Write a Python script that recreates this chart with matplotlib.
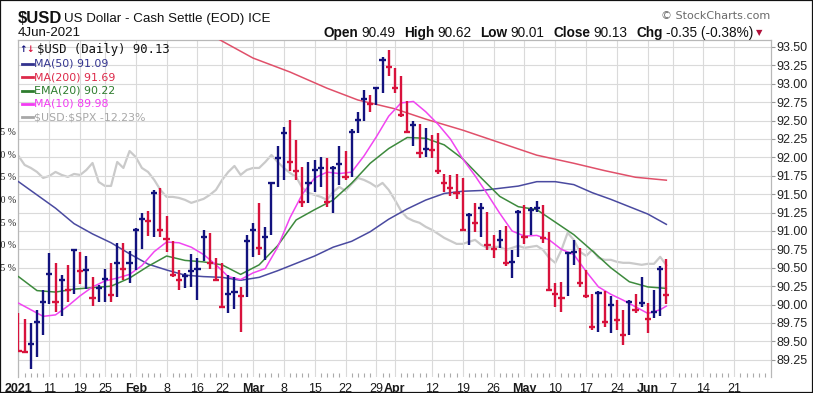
import numpy as np
import matplotlib
matplotlib.use("Agg")
import matplotlib.pyplot as plt
from matplotlib.patches import Rectangle
from matplotlib.lines import Line2D

# ------------------------------------------------------------------ data
# daily bars, 4-Jan-2021 .. 4-Jun-2021 (trading-day order)
highs = [89.89, 89.81, 89.75, 89.93, 90.20, 90.70, 90.56, 90.40, 90.54, 90.76,
         90.71, 90.66, 90.37, 90.27, 90.48, 90.56, 90.84, 90.83, 90.73, 91.04,
         91.25, 91.27, 91.56, 91.58, 91.20, 90.86, 90.47, 90.43, 90.69, 90.63,
         91.01, 90.97, 90.63, 90.56, 90.40, 90.38, 90.24, 90.95, 91.11, 91.38,
         91.05, 91.67, 92.15, 92.41, 92.51, 92.24, 91.87, 91.94, 91.97, 92.01,
         91.99, 91.88, 92.16, 92.08, 92.38, 92.62, 92.92, 92.85, 92.96, 93.37,
         93.46, 93.21, 93.10, 92.76, 92.49, 92.46, 92.40, 92.30, 92.33, 91.78,
         91.76, 91.78, 91.72, 91.24, 91.38, 91.38, 91.26, 90.95, 91.01, 91.07,
         90.74, 91.29, 91.35, 91.33, 91.41, 91.35, 90.99, 90.30, 90.31, 90.72,
         90.88, 90.77, 90.47, 90.15, 90.18, 90.18, 90.11, 90.06, 89.93, 90.06,
         90.15, 90.38, 90.02, 90.20, 90.52, 90.62]
lows = [89.36, 89.34, 89.13, 89.29, 89.59, 90.01, 89.90, 89.84, 90.03, 90.15,
        90.28, 90.21, 89.98, 90.03, 90.03, 90.04, 90.10, 90.33, 90.30, 90.47,
        90.75, 90.93, 90.92, 90.92, 90.71, 90.38, 90.20, 90.22, 90.24, 90.06,
        90.59, 90.49, 90.33, 89.95, 89.89, 89.94, 89.63, 90.10, 90.65, 90.67,
        90.61, 90.95, 91.60, 91.69, 91.81, 91.69, 91.33, 91.38, 91.53, 91.60,
        91.33, 91.24, 91.63, 91.69, 91.74, 92.33, 92.49, 92.62, 92.71, 92.87,
        93.10, 92.87, 92.55, 92.33, 92.15, 91.99, 92.01, 91.99, 91.78, 91.53,
        91.47, 91.43, 91.01, 90.81, 90.99, 90.92, 90.74, 90.63, 90.77, 90.52,
        90.36, 90.65, 90.82, 90.95, 91.26, 90.83, 90.18, 89.97, 89.90, 90.11,
        90.54, 90.24, 90.09, 89.66, 89.63, 89.70, 89.61, 89.66, 89.45, 89.59,
        89.88, 89.97, 89.61, 89.82, 89.84, 90.01]
closes = [89.37, 89.35, 89.46, 89.77, 90.04, 90.41, 90.04, 90.33, 90.20, 90.74,
          90.45, 90.47, 90.09, 90.22, 90.35, 90.13, 90.57, 90.49, 90.56, 91.02,
          91.16, 91.14, 91.51, 91.01, 90.89, 90.40, 90.33, 90.39, 90.46, 90.48,
          90.92, 90.56, 90.34, 89.97, 90.14, 90.17, 90.11, 90.86, 91.01, 90.77,
          90.92, 91.65, 91.99, 92.33, 91.94, 91.81, 91.40, 91.65, 91.83, 91.86,
          91.40, 91.86, 91.91, 91.74, 92.35, 92.51, 92.80, 92.73, 92.94, 93.32,
          93.23, 92.94, 92.58, 92.34, 92.44, 92.06, 92.12, 92.10, 91.81, 91.65,
          91.59, 91.51, 91.02, 91.22, 91.11, 91.31, 90.81, 90.76, 90.88, 90.56,
          90.58, 91.26, 90.92, 91.29, 91.31, 90.90, 90.20, 90.15, 90.09, 90.70,
          90.72, 90.30, 90.11, 89.69, 90.16, 89.77, 90.00, 89.79, 89.59, 90.04,
          89.93, 90.02, 89.81, 89.90, 90.48, 90.13]
prior_close = 89.94   # last close of 2020 (first bar is drawn red)

# overlays (bar index -> value)
ma50_at = list(range(0, 103, 3)) + [105]
ma50 = [91.67, 91.49, 91.31, 91.10, 90.96, 90.84, 90.69, 90.55, 90.47, 90.40,
        90.38, 90.37, 90.33, 90.37, 90.46, 90.56, 90.66, 90.78, 90.86, 90.99,
        91.16, 91.30, 91.42, 91.51, 91.54, 91.55, 91.58, 91.61, 91.67, 91.67,
        91.63, 91.52, 91.43, 91.33, 91.23, 91.09]
ma200_at = [30, 33, 38, 44, 50, 55, 61, 66, 72, 78, 84, 90, 95, 100, 105]
ma200 = [93.72, 93.58, 93.35, 93.16, 92.94, 92.78, 92.66, 92.52, 92.37, 92.20,
         92.03, 91.92, 91.82, 91.73, 91.69]
ema20_at = list(range(0, 103, 3)) + [105]
ema20 = [90.38, 90.19, 90.17, 90.21, 90.23, 90.25, 90.36, 90.52, 90.66, 90.60,
         90.58, 90.54, 90.41, 90.54, 90.80, 91.15, 91.29, 91.42, 91.65, 91.92,
         92.12, 92.27, 92.26, 92.17, 91.98, 91.72, 91.47, 91.33, 91.29, 91.12,
         90.95, 90.73, 90.50, 90.31, 90.24, 90.22]
ma10_at = list(range(0, 105, 2)) + [105]
ma10 = [90.02, 89.93, 89.84, 89.86, 89.98, 90.12, 90.24, 90.32, 90.36, 90.41,
        90.53, 90.72, 90.85, 90.84, 90.78, 90.68, 90.54, 90.38, 90.34, 90.43,
        90.49, 90.78, 91.18, 91.50, 91.72, 91.80, 91.78, 91.80, 92.02, 92.28,
        92.56, 92.74, 92.76, 92.62, 92.45, 92.25, 91.98, 91.75, 91.50, 91.24,
        91.00, 90.93, 90.94, 90.88, 90.75, 90.68, 90.45, 90.24, 90.14, 90.06,
        89.97, 89.88, 89.93, 89.98]
# $USD:$SPX relative performance, percent (left, clipped scale)
spx_rel = [-0.19, -1.18, -1.51, -1.95, -2.61, -2.39, -1.95, -2.28, -2.50, -2.17,
           -2.28, -1.73, -0.96, -3.05, -3.49, -3.49, -0.85, -1.51, 0.36, -0.30,
           -1.51, -1.95, -2.83, -3.93, -4.70, -4.70, -4.81, -5.03, -5.36, -5.14,
           -4.92, -4.48, -3.93, -2.83, -1.95, -1.29, -2.28, -1.73, -1.51, -1.51,
           -0.85, -0.08, -0.85, -1.51, -2.06, -2.50, -3.71, -4.26, -4.48, -4.70,
           -5.03, -4.15, -3.60, -4.04, -3.27, -2.61, -2.83, -3.16, -3.60, -3.16,
           -3.93, -5.03, -6.24, -7.01, -7.34, -7.56, -8.00, -8.33, -8.77, -9.22,
           -9.55, -9.88, -9.88, -9.66, -9.44, -9.99, -10.32, -10.21, -10.21, -10.54,
           -10.32, -10.10, -10.32, -10.21, -10.10, -10.54, -11.42, -11.97, -10.54, -8.66,
           -9.44, -10.76, -11.20, -10.54, -11.42, -11.64, -11.64, -11.86, -11.97, -11.97,
           -12.08, -12.19, -12.08, -12.08, -11.31, -12.23]

# date axis (trading-day index of each label)
date_tick_at = [0, 5, 10, 14, 19, 24, 29, 33, 38, 43, 48, 53, 58, 61, 67, 72, 77,
                82, 87, 92, 97, 102, 106, 111, 116]
date_tick_lab = ["2021", "11", "19", "25", "Feb", "8", "16", "22", "Mar", "8",
                 "15", "22", "29", "Apr", "12", "19", "26", "May", "10", "17",
                 "24", "Jun", "7", "14", "21"]
bold_labels = {"2021", "Feb", "Mar", "Apr", "May", "Jun"}
price_ticks = [89.25 + 0.25 * k for k in range(18)]
pct_ticks = [2.5, 0.0, -2.5, -5.0, -7.5, -10.0, -12.5]

legend_rows = [("MA(50) 91.09", "#33338f"), ("MA(200) 91.69", "#dd2a4a"),
               ("EMA(20) 90.22", "#2f7d2f"), ("MA(10) 89.98", "#f23cf2"),
               (r"\$USD:\$SPX -12.23%", "#a8a8a8")]
ohlc_header = [("Open", "90.49"), ("High", "90.62"), ("Low", "90.01"),
               ("Close", "90.13"), ("Chg", "-0.35 (-0.38%)")]

# ------------------------------------------------------------------ figure
W, H = 813, 393
fig = plt.figure(figsize=(W / 100, H / 100), dpi=100)
fig.patch.set_facecolor("white")


def fx(px):
    return px / W


def fy(py):
    return 1 - py / H


L, R, T, B = 18, 771, 40, 377
rect = [fx(L), fy(B), (R - L) / W, (B - T) / H]
axp = fig.add_axes(rect, label="pct")
ax = fig.add_axes(rect, label="price")
ax.patch.set_visible(False)

UP, DN = "#12127e", "#d8123c"
SANS = "Liberation Sans"

n = len(closes)
idx = np.arange(n)
for a in (ax, axp):
    a.set_xlim(-0.08, 121.96)
ax.set_ylim(89.016, 93.595)
axp.set_ylim(-24.56, 12.60)

# relative-performance line on its own (left) scale
axp.plot(idx, spx_rel, color="#cacaca", lw=1.6, solid_joinstyle="round")
axp.set_xticks([])
axp.yaxis.set_ticks_position("left")
axp.set_yticks(pct_ticks)
axp.set_yticklabels([f"{v:.1f} %" for v in pct_ticks])
axp.tick_params(axis="y", length=0, pad=1.2, labelsize=7, labelcolor="#222222")
for lab in axp.get_yticklabels():
    lab.set_fontfamily("Liberation Serif")
for s in axp.spines.values():
    s.set_visible(False)

# price axis
ax.yaxis.tick_right()
ax.set_yticks(price_ticks)
ax.set_yticklabels([f"{v:.2f}" for v in price_ticks])
ax.tick_params(axis="y", direction="out", length=3, width=0.8, color="#999999",
               pad=1, labelsize=9, labelcolor="#222222")
for lab in ax.get_yticklabels():
    lab.set_fontfamily(SANS)

ax.set_xticks(date_tick_at)
ax.set_xticklabels(date_tick_lab)
ax.set_xticks(np.arange(0, 122), minor=True)
ax.tick_params(axis="x", which="major", length=0, pad=4, labelsize=9,
               labelcolor="#1a1a1a")
ax.tick_params(axis="x", which="minor", direction="in", length=3, width=0.8,
               color="#aaaaaa")
for lab in ax.get_xticklabels():
    lab.set_fontfamily(SANS)
    if lab.get_text() in bold_labels:
        lab.set_fontweight("bold")

ax.grid(True, which="major", color="#dadada", lw=0.8)
ax.set_axisbelow(True)
for side in ("left", "top", "right"):
    ax.spines[side].set_color("#b8b8b8")
    ax.spines[side].set_linewidth(0.9)
ax.spines["bottom"].set_visible(False)

# overlays
ax.plot(ma200_at, ma200, color="#e0506a", lw=1.1, zorder=3)
ax.plot(ma50_at, ma50, color="#4a4aa0", lw=1.1, zorder=3)
ax.plot(ema20_at, ema20, color="#3d8a3d", lw=1.1, zorder=3)
ax.plot(ma10_at, ma10, color="#f145f1", lw=1.1, zorder=3)

# price bars: high-low line with close cross
prev = np.r_[prior_close, closes[:-1]]
cols = np.where(np.array(closes) > prev, UP, DN)
ax.vlines(idx, lows, highs, colors=cols, lw=1.7, zorder=4)
ax.hlines(closes, idx - 0.5, idx + 0.5, colors=cols, lw=1.7, zorder=4)

# ------------------------------------------------------------------ legend
fig.text(fx(19), fy(50), "\u2191", color=UP, fontsize=6.5, va="center",
         ha="left", family="DejaVu Sans", fontweight="bold")
fig.text(fx(26.5), fy(50), "\u2193", color=DN, fontsize=6.5, va="center",
         ha="left", family="DejaVu Sans", fontweight="bold")
fig.text(fx(37), fy(50), "$USD (Daily) 90.13", color="#111111", fontsize=8.8,
         va="center", ha="left", family="DejaVu Sans Mono")
for k, (txt, c) in enumerate(legend_rows):
    yc = 63.5 + 13.5 * k
    fig.add_artist(Line2D([fx(21.5), fx(32.5)], [fy(yc), fy(yc)], color=c, lw=2.0,
                          transform=fig.transFigure))
    fig.text(fx(34), fy(yc), txt, color=c, fontsize=7.9, va="center", ha="left",
             family="DejaVu Sans")

# ------------------------------------------------------------------ header
fig.text(fx(18), fy(18.5), "$USD", fontsize=12, fontweight="bold",
         family=SANS, va="center", ha="left", color="#111111")
fig.text(fx(64), fy(19), "US Dollar - Cash Settle (EOD) ICE", fontsize=9.6,
         family=SANS, va="center", ha="left", color="#111111")
fig.text(fx(18), fy(33), "4Jun-2021", fontsize=9.6, family=SANS, va="center",
         ha="left", color="#111111")
fig.text(fx(770), fy(16), "\u00a9 StockCharts.com", fontsize=8, family="DejaVu Sans",
         va="center", ha="right", color="#6a6a6a")

renderer = fig.canvas.get_renderer()
pieces = []
for key, val in ohlc_header:
    pieces.append((key, "bold", 3))
    pieces.append((val, "normal", 9))
made = []
for s, wgt, gap in pieces:
    t = fig.text(0, fy(37), s, fontsize=9.8, fontweight=wgt, family=SANS,
                 va="baseline", ha="left", color="#111111")
    made.append((t, t.get_window_extent(renderer).width, gap))
total = sum(w for _, w, _ in made) + sum(g for _, _, g in made[:-1])
x = 753 - total
for t, w, gap in made:
    t.set_x(fx(x))
    x += w + gap
fig.text(fx(756), fy(33), "\u25bc", fontsize=6, color="#b0103a", va="center",
         ha="left", family="DejaVu Sans")

# outer frame
fig.add_artist(Rectangle((0, 0), 1, 1, transform=fig.transFigure, fill=False,
                         ec="#111111", lw=1.6))

fig.savefig("out.png", dpi=100, facecolor="white")
